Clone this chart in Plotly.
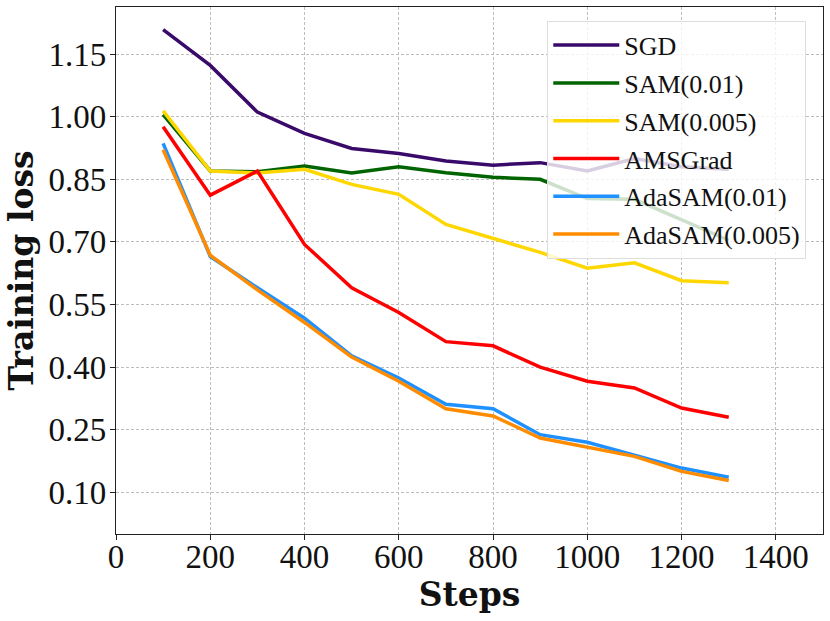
import plotly.graph_objects as go

steps = [100, 200, 300, 400, 500, 600, 700, 800, 900, 1000, 1100, 1200, 1300]

sgd = [1.209, 1.123, 1.011, 0.960, 0.924, 0.912, 0.894, 0.884, 0.890, 0.870, 0.900, 0.880, 0.874]
sam_01 = [1.005, 0.870, 0.868, 0.882, 0.865, 0.880, 0.866, 0.855, 0.850, 0.804, 0.802, 0.752, 0.704]
sam_005 = [1.014, 0.870, 0.865, 0.874, 0.838, 0.814, 0.742, 0.708, 0.675, 0.637, 0.650, 0.607, 0.602]
amsgrad = [0.976, 0.812, 0.870, 0.694, 0.590, 0.531, 0.461, 0.451, 0.400, 0.366, 0.350, 0.302, 0.280]
adasam_01 = [0.936, 0.665, 0.590, 0.517, 0.427, 0.374, 0.311, 0.300, 0.238, 0.220, 0.189, 0.158, 0.136]
adasam_005 = [0.921, 0.668, 0.585, 0.507, 0.424, 0.366, 0.300, 0.283, 0.230, 0.208, 0.186, 0.150, 0.128]

names = ["SGD", "SAM(0.01)", "SAM(0.005)", "AMSGrad", "AdaSAM(0.01)", "AdaSAM(0.005)"]
colors = ["#3a0a6a", "#006400", "#ffd700", "#ff0000", "#1e90ff", "#ff8c00"]
series = [sgd, sam_01, sam_005, amsgrad, adasam_01, adasam_005]

y_ticks = [0.10, 0.25, 0.40, 0.55, 0.70, 0.85, 1.00, 1.15]
x_ticks = [0, 200, 400, 600, 800, 1000, 1200, 1400]

fig = go.Figure()
for name, color, vals in zip(names, colors, series):
    fig.add_trace(go.Scatter(x=steps, y=vals, mode="lines", name=name,
                             legendgroup=name,
                             line=dict(color=color, width=3.5)))

font_family = "Liberation Serif"
title_font = dict(family="DejaVu Serif", size=33, color="#111111")
axis_style = dict(
    showline=True, linecolor="#222222", linewidth=1.2, mirror=True,
    ticks="outside", ticklen=5, tickcolor="#222222",
    showgrid=True, gridcolor="#bdbdbd", gridwidth=1, griddash="3px,2px",
    zeroline=False, automargin=False,
    tickfont=dict(family=font_family, size=33, color="#111111"),
)

fig.update_xaxes(range=[0, 1500], tickvals=x_ticks, ticklabelstandoff=-12,
                 title=dict(text="<b>Steps</b>", standoff=2, font=title_font),
                 **axis_style)
fig.update_yaxes(range=[0.0, 1.263], tickvals=y_ticks, tickformat=".2f",
                 ticklabelstandoff=-3,
                 title=dict(text="<b>Training loss</b>", standoff=4, font=title_font),
                 **axis_style)

fig.update_layout(
    width=830, height=621,
    margin=dict(l=116, r=7, t=7, b=87),
    plot_bgcolor="white", paper_bgcolor="white",
    legend=dict(x=0.61, y=0.974, xanchor="left", yanchor="top",
                bgcolor="rgba(255,255,255,0.8)", bordercolor="#dddddd", borderwidth=1,
                font=dict(family=font_family, size=26, color="#111111"),
                itemwidth=66, tracegroupgap=1),
)

# page has a default body margin; drop it so the figure sits at the corner
fig.write_html("out.html", config={"displayModeBar": False},
               post_script="document.body.style.margin='0';")
